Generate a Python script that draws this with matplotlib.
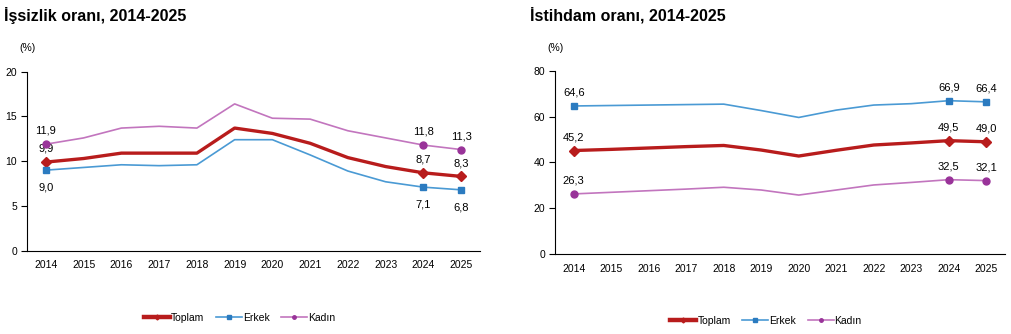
import matplotlib
matplotlib.use('Agg')
import matplotlib.pyplot as plt
import numpy as np

plt.rcParams['font.family'] = ['Liberation Sans', 'DejaVu Sans']

years = ['2014', '2015', '2016', '2017', '2018', '2019', '2020', '2021', '2022', '2023', '2024', '2025']

# issizlik orani (%)
unemp_total = [9.9, 10.3, 10.9, 10.9, 10.9, 13.7, 13.1, 12.0, 10.4, 9.4, 8.7, 8.3]
unemp_male = [9.0, 9.3, 9.6, 9.5, 9.6, 12.4, 12.4, 10.7, 8.9, 7.7, 7.1, 6.8]
unemp_female = [11.9, 12.6, 13.7, 13.9, 13.7, 16.4, 14.8, 14.7, 13.4, 12.6, 11.8, 11.3]

# istihdam orani (%)
emp_total = [45.2, 45.7, 46.3, 46.9, 47.4, 45.4, 42.8, 45.3, 47.6, 48.5, 49.5, 49.0]
emp_male = [64.6, 64.8, 65.0, 65.2, 65.4, 62.6, 59.6, 62.8, 65.0, 65.6, 66.9, 66.4]
emp_female = [26.3, 27.0, 27.7, 28.4, 29.2, 28.0, 25.8, 28.0, 30.2, 31.3, 32.5, 32.1]

series_names = ['Toplam', 'Erkek', 'Kadın']
line_colors = ['#B81C1C', '#4A9AD4', '#C275BE']
marker_colors = ['#B81C1C', '#2B7BC0', '#993399']
markers = ['D', 's', 'o']
widths = [2.4, 1.2, 1.2]
labelled = [0, 10, 11]

fig = plt.figure(figsize=(10.12, 3.34), dpi=100)
ax1 = fig.add_axes([0.0267, 0.2494, 0.4476, 0.536])
ax2 = fig.add_axes([0.5484, 0.2386, 0.4447, 0.550])

x = np.arange(len(years))


def draw(ax, data, ymax, step, below_male, title, title_x, pct_x, leg_x, leg_y):
    handles = []
    for i, vals in enumerate(data):
        ax.plot(x, vals, color=line_colors[i], lw=widths[i], zorder=3 - i * 0.1)
        ax.plot([x[j] for j in labelled], [vals[j] for j in labelled], ls='none',
                marker=markers[i], ms=5.5 if i == 0 else 5, color=marker_colors[i], zorder=4)
        h, = ax.plot([], [], color=line_colors[i], lw=widths[i] + 0.8 if i == 0 else widths[i],
                     marker=markers[i], ms=2.5, markerfacecolor=marker_colors[i],
                     markeredgecolor=marker_colors[i])
        handles.append(h)
        for j in labelled:
            txt = f'{vals[j]:.1f}'.replace('.', ',')
            if below_male and i == 1:
                ax.annotate(txt, (x[j], vals[j]), xytext=(0, -9), textcoords='offset points',
                            ha='center', va='top', fontsize=8)
            else:
                ax.annotate(txt, (x[j], vals[j]), xytext=(0, 6), textcoords='offset points',
                            ha='center', va='bottom', fontsize=8)
    ax.set_xlim(-0.5, 11.5)
    ax.set_ylim(0, ymax)
    ax.set_yticks(np.arange(0, ymax + 1, step))
    ax.set_xticks(x)
    ax.set_xticklabels(years)
    ax.tick_params(axis='x', length=0, labelsize=7.5, pad=7)
    ax.tick_params(axis='y', length=4, width=0.8, labelsize=7.5, pad=3)
    for s in ['top', 'right']:
        ax.spines[s].set_visible(False)
    for s in ['left', 'bottom']:
        ax.spines[s].set_linewidth(0.8)
    fig.text(title_x, 0.955, title, fontsize=11.5, fontweight='bold', va='center')
    fig.text(pct_x, 0.857, '(%)', fontsize=7.5, va='center')
    fig.legend(handles, series_names, loc='center', bbox_to_anchor=(leg_x, leg_y),
               ncol=3, frameon=False, fontsize=7.5, handlelength=2.5, handletextpad=0.1,
               columnspacing=1.1)


draw(ax1, [unemp_total, unemp_male, unemp_female], 20, 5, True,
     'İşsizlik oranı, 2014-2025', 0.004, 0.019, 0.237, 0.048)
draw(ax2, [emp_total, emp_male, emp_female], 80, 20, False,
     'İstihdam oranı, 2014-2025', 0.524, 0.541, 0.757, 0.04)

fig.savefig('out.png', dpi=100)
